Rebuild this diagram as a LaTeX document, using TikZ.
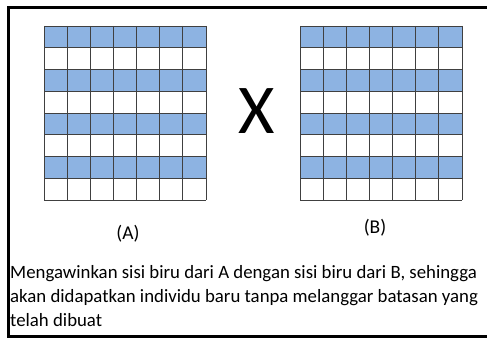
\documentclass[tikz,border=0pt]{standalone}
\usepackage{fontspec}
\setmainfont{Carlito}
\definecolor{cellblue}{RGB}{141,179,226}
\definecolor{gridline}{RGB}{64,64,64}
\tikzset{
  gridstyle/.style={draw=gridline, line width=0.8pt},
  label/.style={inner sep=0pt, font=\fontsize{19.5}{22}\selectfont},
}
\begin{document}
\begin{tikzpicture}[x=1pt,y=-1pt]
\useasboundingbox (0,0) rectangle (487,339);
\fill[white] (0,0) rectangle (487,339);
% frame (right side clipped)
\draw[line width=2.6pt] (492,7.3) -- (8.3,7.3) -- (8.3,336.2) -- (492,336.2);
% grids
\foreach \gx/\nm in {44/A, 300/B}{
  \foreach \r in {0,2,4,6}{
    \fill[cellblue] (\gx,26+\r*21.75) rectangle (\gx+162,26+\r*21.75+21.75);
  }
  \foreach \c in {0,...,7}{
    \draw[gridstyle] (\gx+\c*162/7,26) -- (\gx+\c*162/7,200);
  }
  \foreach \r in {0,...,8}{
    \draw[gridstyle] (\gx,26+\r*21.75) -- (\gx+162,26+\r*21.75);
  }
  \node[inner sep=0pt] (grid\nm) at (\gx+81,113) {};
}
\node[inner sep=0pt, font=\fontsize{70}{72}\selectfont] (cross) at (257,111) {X};
\node[label] (labA) at (128,234) {(A)};
\node[label] (labB) at (375,228) {(B)};
\node[inner sep=0pt, anchor=north west, align=left, font=\fontsize{18.8}{24}\selectfont] (desc) at (10,265)
  {Mengawinkan sisi biru dari A dengan sisi biru dari B, sehingga\\
   akan didapatkan individu baru tanpa melanggar batasan yang\\
   telah dibuat};
\end{tikzpicture}
\end{document}
